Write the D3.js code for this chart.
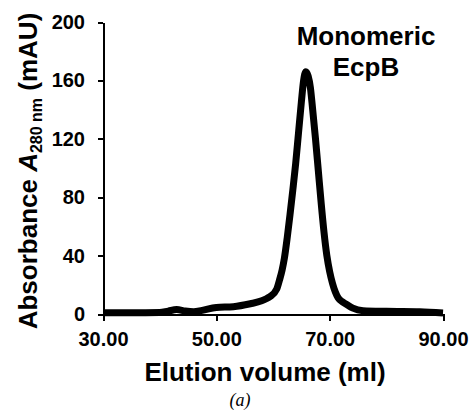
<!DOCTYPE html>
<html lang="en">
<head>
    <meta charset="UTF-8">
    <title>Elution profile</title>
    <style>
        body{ margin:0; background:#fff; }
        svg text{ font-family:"Liberation Sans", Arial, sans-serif; font-weight:bold; fill:#000; }
        .axis text{ font-size:20px; }
        .axis path,.axis line{ stroke:#000; stroke-width:2; shape-rendering:crispEdges; }
        .title{ font-size:26px; text-anchor:middle; }
        .label{ font-size:26px; text-anchor:middle; }
        .panel{ font-family:"Liberation Serif", "Times New Roman", serif; font-weight:normal; font-style:italic; font-size:18px; text-anchor:middle; }
    </style>
    <script src="https://cdn.jsdelivr.net/npm/d3@7"></script>
</head>
<body>
<script>
    // elution volume (ml) and absorbance (mAU)
    var volume = [30, 35, 40, 41.5, 43, 44.5, 46, 47.5, 50, 53, 56, 58, 58.9, 59.5, 60.65, 61.2, 61.6, 62.0, 62.5, 63.0, 63.5, 64.0, 64.5, 65.0, 65.4, 65.8,
                  66.2, 66.6, 67.0, 67.5, 68.0, 68.5, 69.0, 69.5, 70.0, 70.5, 71.0, 71.5, 72.4, 73.0, 74.1, 75.9, 80, 85.9, 90];
    var absorbance = [0.8, 0.8, 1, 2, 3, 2, 1.5, 2.5, 4.5, 5, 7, 9, 10.6, 12, 17, 24, 30, 38, 52, 68, 85, 103, 124, 145, 160, 166,
                      163, 155, 140, 120, 98, 76, 56, 40, 29, 21, 15, 11, 8, 6.5, 4, 2.3, 1.8, 1.5, 0.7];
    var xTicks = [30, 50, 70, 90];
    var yTicks = [0, 40, 80, 120, 160, 200];

    var width = 469, height = 410;
    var padding = {top:22, right:26, bottom:96, left:103};

    var svg = d3.select("body").append("svg")
            .attr("width", width)
            .attr("height", height);

    var xScale = d3.scaleLinear()
            .domain([30, 90])
            .range([padding.left, width - padding.right]);
    var yScale = d3.scaleLinear()
            .domain([0, 200])
            .range([height - padding.bottom, padding.top]);

    var xAxis = d3.axisBottom(xScale)
            .tickValues(xTicks)
            .tickFormat(d3.format(".2f"))
            .tickSizeInner(7)
            .tickSizeOuter(0)
            .tickPadding(11);
    var yAxis = d3.axisLeft(yScale)
            .tickValues(yTicks)
            .tickSizeInner(5)
            .tickSizeOuter(0)
            .tickPadding(13);

    svg.append("g")
            .attr("class", "axis")
            .attr("transform", "translate(0," + yScale(0) + ")")
            .call(xAxis);
    svg.append("g")
            .attr("class", "axis")
            .attr("transform", "translate(" + xScale(30) + ",0)")
            .call(yAxis);

    // trace
    var line = d3.line()
            .x(function(d, i){ return xScale(volume[i]); })
            .y(function(d){ return yScale(d); })
            .curve(d3.curveMonotoneX);

    svg.append("path")
            .attr("d", line(absorbance))
            .attr("fill", "none")
            .attr("stroke", "#000")
            .attr("stroke-width", 7)
            .attr("stroke-linejoin", "round")
            .attr("stroke-linecap", "butt");

    // peak label
    svg.append("text").attr("class", "label").attr("x", 366).attr("y", 45).text("Monomeric");
    svg.append("text").attr("class", "label").attr("x", 366).attr("y", 76).text("EcpB");

    // axis titles
    svg.append("text")
            .attr("class", "title")
            .attr("x", 265)
            .attr("y", 381)
            .text("Elution volume (ml)");

    var yt = svg.append("text")
            .attr("class", "title")
            .attr("transform", "translate(37," + 171 + ") rotate(-90)");
    yt.append("tspan").text("Absorbance ");
    yt.append("tspan").attr("font-style", "italic").text("A");
    yt.append("tspan").attr("font-size", "16px").attr("dy", 5).text("280 nm");
    yt.append("tspan").attr("dy", -5).text(" (mAU)");

    svg.append("text")
            .attr("class", "panel")
            .attr("x", 240)
            .attr("y", 406)
            .text("(a)");
</script>
</body>
</html>
